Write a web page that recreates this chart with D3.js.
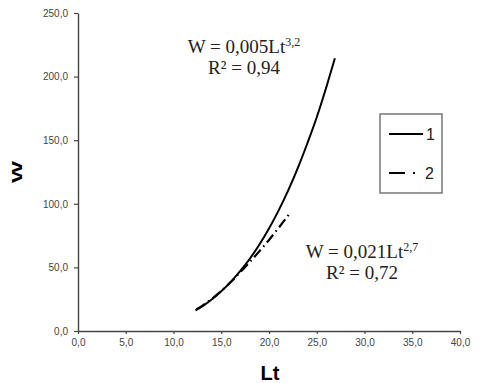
<!DOCTYPE html>
<html>
<head>
<meta charset="utf-8">
<script src="https://cdn.jsdelivr.net/npm/d3@7"></script>
<style>
	body { margin: 0; background: #fff; }
	svg { display: block; }
</style>
</head>
<body>
<div id="chart"></div>
<script>
	var w = 479
	var h = 383

	// curve 1 : W = 0,005Lt^3,2
	var lt1 = [12.3, 13, 14, 15, 16, 17, 18, 19, 20, 21, 22, 23, 24, 25, 26, 26.9]
	var w1 = [16.2, 19.4, 24.8, 31.2, 38.6, 47.2, 56.9, 68.0, 80.6, 94.6, 110.3, 127.8, 147.2, 168.0, 191.6, 214.4]

	// curve 2 : W = 0,021Lt^2,7
	var lt2 = [12.4, 13, 14, 15, 16, 17, 18, 19, 20, 21, 22, 22.2]
	var w2 = [17.2, 19.8, 25.2, 31.4, 38.5, 46.3, 54.3, 62.8, 71.6, 81.0, 90.8, 92.8]

	var xTicks = [0, 5, 10, 15, 20, 25, 30, 35, 40]
	var yTicks = [0, 50, 100, 150, 200, 250]
	var legendLabels = ["1", "2"]

	var boundaries = {
		bottom: 331,
		top: 13,
		left: 78,
		right: 460
	}

	var svg = d3.select("#chart")
		.append("svg")
		.attr("width", w)
		.attr("height", h)

	var fmt = d => d3.format(".1f")(d).replace(".", ",")

	let xScale = d3.scaleLinear()
		.domain([0, 40])
		.range([boundaries.left, boundaries.right])

	let yScale = d3.scaleLinear()
		.domain([0, 250])
		.range([boundaries.bottom, boundaries.top])

	let xAxis = d3.axisBottom(xScale).tickValues(xTicks).tickFormat(fmt).tickSizeInner(3).tickSizeOuter(0).tickPadding(5)
	let yAxis = d3.axisLeft(yScale).tickValues(yTicks).tickFormat(fmt).tickSizeInner(4).tickSizeOuter(0).tickPadding(6)

	let gx = svg.append("g")
		.attr("transform", "translate(0, " + boundaries.bottom + ")")
		.call(xAxis)

	let gy = svg.append("g")
		.attr("transform", "translate(" + boundaries.left + ", 0)")
		.call(yAxis)

	;[gx, gy].forEach(g => {
		g.select(".domain").attr("stroke", "#444").attr("stroke-width", 1.4)
		g.selectAll(".tick line").attr("stroke", "#444").attr("stroke-width", 1.2)
		g.selectAll(".tick text")
			.attr("fill", "#444")
			.style("font-family", "Liberation Sans, Arial, sans-serif")
			.style("font-size", "10px")
	})

	// curves
	let line = d3.line()
		.x(d => xScale(d[0]))
		.y(d => yScale(d[1]))
		.curve(d3.curveMonotoneX)

	svg.append("path")
		.datum(lt1.map((d, i) => [d, w1[i]]))
		.attr("d", line)
		.attr("fill", "none")
		.attr("stroke", "#000")
		.attr("stroke-width", 2)

	svg.append("path")
		.datum(lt2.map((d, i) => [d, w2[i]]))
		.attr("d", line)
		.attr("fill", "none")
		.attr("stroke", "#000")
		.attr("stroke-width", 2.2)
		.attr("stroke-dasharray", "10,4,1.5,4")

	// equations
	let serif = "Liberation Serif, Times New Roman, serif"

	let eq = (x, y, exp, r2) => {
		let t = svg.append("text")
			.attr("x", x)
			.attr("y", y)
			.attr("text-anchor", "middle")
			.attr("fill", "#222")
			.style("font-family", serif)
			.style("font-size", "19px")
		t.append("tspan").text(exp[0])
		t.append("tspan").attr("dy", -7).style("font-size", "12px").text(exp[1])
		svg.append("text")
			.attr("x", x)
			.attr("y", y + 21)
			.attr("text-anchor", "middle")
			.attr("fill", "#222")
			.style("font-family", serif)
			.style("font-size", "19px")
			.text(r2)
	}
	eq(244, 53, ["W = 0,005Lt", "3,2"], "R² = 0,94")
	eq(362, 258, ["W = 0,021Lt", "2,7"], "R² = 0,72")

	// legend
	svg.append("rect")
		.attr("x", 380).attr("y", 114)
		.attr("width", 62).attr("height", 79)
		.attr("fill", "none")
		.attr("stroke", "#777")
		.attr("stroke-width", 1.5)

	legendLabels.forEach((lab, i) => {
		let ly = 134 + i * 39
		svg.append("line")
			.attr("x1", 389).attr("x2", 423)
			.attr("y1", ly).attr("y2", ly)
			.attr("stroke", "#000")
			.attr("stroke-width", 2)
			.attr("stroke-dasharray", i == 0 ? null : "16,8,2,40")
		svg.append("text")
			.attr("x", i == 0 ? 426 : 425)
			.attr("y", ly + 6)
			.attr("fill", "#222")
			.style("font-family", "Liberation Sans, Arial, sans-serif")
			.style("font-size", "16px")
			.text(lab)
	})

	// axis titles
	svg.append("text")
		.attr("transform", "translate(22, 172) rotate(-90)")
		.attr("text-anchor", "middle")
		.attr("textLength", 22)
		.attr("lengthAdjust", "spacingAndGlyphs")
		.style("font-family", "Liberation Sans, Arial, sans-serif")
		.style("font-weight", "bold")
		.style("font-size", "14px")
		.text("W")

	svg.append("text")
		.attr("x", 270)
		.attr("y", 380)
		.attr("text-anchor", "middle")
		.style("font-family", "Liberation Sans, Arial, sans-serif")
		.style("font-weight", "bold")
		.style("font-size", "20px")
		.text("Lt")
</script>
</body>
</html>
